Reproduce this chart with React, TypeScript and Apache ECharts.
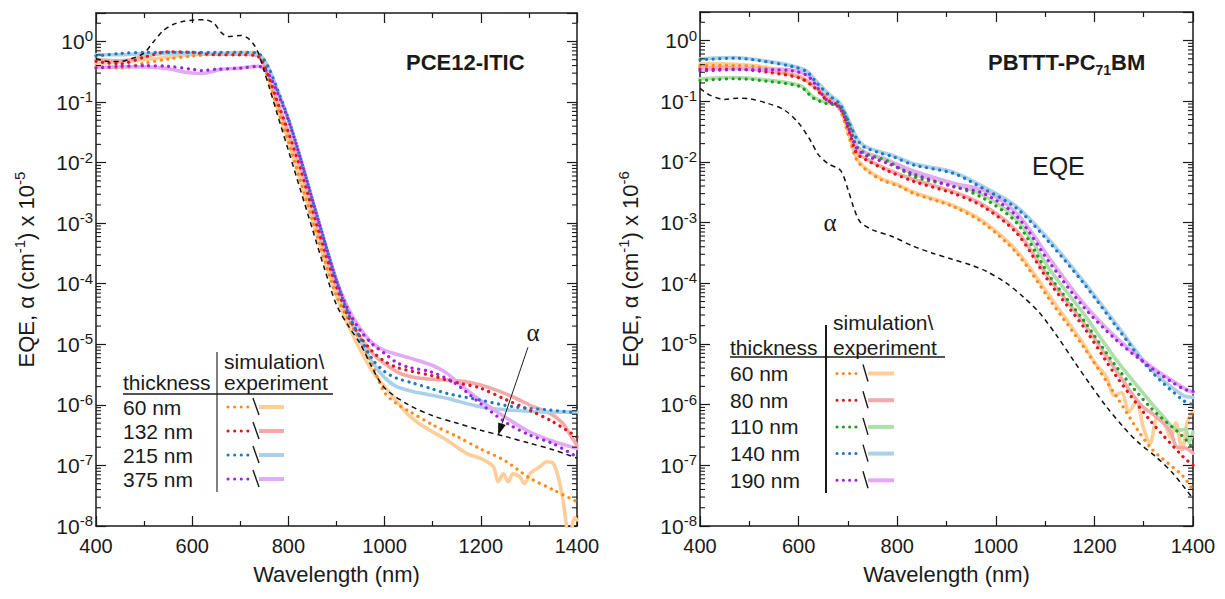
import React, { useEffect, useRef } from 'react';
import * as echarts from 'echarts';

const FONT = '"Liberation Sans", Arial, Helvetica, sans-serif';
const INK = '#1a1a1a';

// ---------- PCE12-ITIC (left panel), values are log10(EQE) / log10(alpha x 1e-5) ----------
const pceAlpha = [
  [400, -0.28], [425, -0.33], [450, -0.33], [475, -0.28], [500, -0.19], [520, 0.0], [540, 0.18], [560, 0.28],
  [580, 0.33], [600, 0.35], [625, 0.36], [645, 0.3], [660, 0.15], [675, 0.08], [700, 0.1], [715, 0.06],
  [728, -0.05], [738, -0.2], [750, -0.5], [760, -0.75], [775, -1.15], [800, -1.8], [825, -2.45], [850, -3.1],
  [875, -3.75], [900, -4.35], [925, -4.7], [950, -5.0], [975, -5.4], [1000, -5.72], [1050, -6.0], [1100, -6.18],
  [1150, -6.3], [1200, -6.42], [1250, -6.52], [1300, -6.63], [1350, -6.74], [1400, -6.88],
];
const pceSim60 = [
  [400, -0.41], [450, -0.44], [500, -0.36], [550, -0.29], [600, -0.24], [650, -0.21], [700, -0.19], [735, -0.2],
  [745, -0.3], [760, -0.65], [775, -1.05], [800, -1.65], [825, -2.3], [850, -2.95], [875, -3.6], [900, -4.2],
  [925, -4.6], [950, -4.95], [975, -5.35], [1000, -5.8], [1025, -5.98], [1050, -6.1], [1100, -6.33], [1150, -6.52],
  [1200, -6.73], [1250, -6.92], [1300, -7.2], [1350, -7.4], [1400, -7.6],
];
const pceExp60 = [
  [400, -0.36], [450, -0.34], [500, -0.3], [550, -0.26], [600, -0.22], [650, -0.2], [700, -0.18], [735, -0.19],
  [745, -0.3], [760, -0.65], [775, -1.05], [800, -1.65], [825, -2.3], [850, -2.95], [875, -3.6], [900, -4.2],
  [925, -4.7], [950, -5.1], [975, -5.45], [1000, -5.7], [1018, -5.87], [1046, -6.14], [1070, -6.3], [1094, -6.42],
  [1129, -6.58], [1170, -6.8], [1198, -6.88], [1226, -7.02], [1236, -7.27], [1247, -7.14], [1257, -7.27],
  [1267, -7.14], [1281, -7.19], [1291, -7.3], [1302, -7.14], [1323, -7.02], [1337, -6.94], [1350, -6.96],
  [1361, -7.19], [1371, -7.58], [1378, -8.0], [1384, -8.4], [1390, -8.0], [1395, -7.86], [1400, -7.9],
];
const pceSim132 = [
  [400, -0.33], [450, -0.37], [500, -0.26], [550, -0.17], [600, -0.18], [650, -0.22], [700, -0.22], [735, -0.24],
  [745, -0.32], [760, -0.6], [775, -0.95], [800, -1.5], [825, -2.1], [850, -2.78], [875, -3.45], [900, -4.05],
  [925, -4.55], [950, -4.88], [975, -5.12], [1000, -5.28], [1025, -5.38], [1059, -5.45], [1100, -5.52],
  [1129, -5.59], [1160, -5.65], [1198, -5.72], [1254, -5.92], [1302, -6.09], [1350, -6.28], [1400, -6.53],
];
const pceExp132 = [
  [400, -0.3], [450, -0.32], [500, -0.25], [550, -0.18], [600, -0.2], [650, -0.21], [700, -0.21], [735, -0.23],
  [745, -0.32], [760, -0.6], [775, -0.95], [800, -1.5], [825, -2.1], [850, -2.78], [875, -3.45], [900, -4.05],
  [925, -4.55], [950, -4.9], [975, -5.15], [990, -5.26], [1032, -5.48], [1074, -5.56], [1129, -5.59],
  [1170, -5.62], [1219, -5.72], [1267, -5.87], [1309, -6.03], [1344, -6.14], [1370, -6.3], [1385, -6.48], [1400, -6.67],
];
const pceSim215 = [
  [400, -0.24], [450, -0.2], [500, -0.18], [550, -0.18], [600, -0.18], [650, -0.18], [700, -0.18], [735, -0.19],
  [745, -0.25], [760, -0.45], [775, -0.75], [800, -1.28], [825, -1.93], [850, -2.62], [875, -3.3], [900, -3.95],
  [925, -4.5], [950, -4.9], [975, -5.25], [1000, -5.45], [1025, -5.56], [1059, -5.64], [1100, -5.74],
  [1129, -5.81], [1198, -5.92], [1267, -6.03], [1337, -6.08], [1400, -6.13],
];
const pceExp215 = [
  [400, -0.22], [450, -0.22], [500, -0.2], [550, -0.2], [600, -0.2], [650, -0.2], [700, -0.19], [735, -0.2],
  [745, -0.26], [760, -0.45], [775, -0.75], [800, -1.28], [825, -1.93], [850, -2.62], [875, -3.3], [900, -3.95],
  [925, -4.52], [950, -4.95], [975, -5.3], [1000, -5.55], [1025, -5.7], [1059, -5.78], [1129, -5.89],
  [1198, -6.03], [1267, -6.09], [1337, -6.12], [1400, -6.12],
];
const pceSim375 = [
  [400, -0.44], [450, -0.41], [500, -0.4], [550, -0.41], [600, -0.46], [620, -0.48], [650, -0.46], [700, -0.44],
  [738, -0.41], [750, -0.45], [760, -0.55], [775, -0.8], [800, -1.3], [825, -1.93], [850, -2.62], [875, -3.3],
  [900, -3.95], [925, -4.45], [950, -4.78], [975, -5.0], [1000, -5.15], [1025, -5.3], [1050, -5.38],
  [1094, -5.45], [1142, -5.62], [1198, -5.97], [1254, -6.3], [1302, -6.5], [1350, -6.64], [1400, -6.86],
];
const pceExp375 = [
  [400, -0.43], [450, -0.42], [500, -0.42], [550, -0.45], [580, -0.5], [600, -0.52], [620, -0.53], [640, -0.5],
  [660, -0.46], [700, -0.44], [738, -0.41], [750, -0.45], [760, -0.55], [775, -0.8], [800, -1.3], [825, -1.93],
  [850, -2.62], [875, -3.3], [900, -3.95], [925, -4.42], [950, -4.75], [975, -4.98], [1000, -5.1], [1050, -5.22],
  [1100, -5.35], [1130, -5.48], [1150, -5.62], [1200, -5.93], [1250, -6.2], [1300, -6.44], [1350, -6.6], [1400, -6.72],
];

// ---------- PBTTT-PC71BM (right panel), values are log10(EQE) / log10(alpha x 1e-6) ----------
const pbAlpha = [
  [400, -0.79], [420, -0.9], [450, -0.97], [475, -0.95], [500, -0.96], [535, -1.03], [570, -1.14], [600, -1.36],
  [625, -1.66], [640, -1.88], [660, -2.03], [685, -2.14], [700, -2.45], [712, -2.76], [725, -2.99], [750, -3.12],
  [790, -3.23], [830, -3.38], [870, -3.5], [910, -3.6], [950, -3.7], [980, -3.8], [1020, -3.99], [1055, -4.22],
  [1090, -4.5], [1125, -4.88], [1160, -5.3], [1190, -5.65], [1225, -6.04], [1260, -6.38], [1290, -6.63],
  [1325, -6.86], [1360, -7.14], [1400, -7.55],
];
const pbSim60 = [
  [400, -0.41], [470, -0.41], [535, -0.46], [603, -0.62], [630, -0.76], [664, -0.98], [684, -1.15], [704, -1.64],
  [718, -1.97], [738, -2.14], [769, -2.3], [806, -2.41], [833, -2.52], [914, -2.74], [975, -3.01], [1043, -3.51],
  [1110, -4.28], [1178, -5.05], [1245, -5.87], [1313, -6.7], [1380, -7.18], [1400, -7.42],
];
const pbExp60 = [
  [400, -0.38], [470, -0.39], [535, -0.44], [603, -0.6], [630, -0.74], [664, -0.96], [684, -1.12], [704, -1.6],
  [718, -1.94], [738, -2.12], [769, -2.28], [806, -2.39], [833, -2.5], [914, -2.72], [975, -2.98], [1043, -3.47],
  [1110, -4.22], [1178, -5.0], [1200, -5.3], [1225, -5.55], [1240, -5.85], [1255, -5.8], [1270, -6.12],
  [1285, -5.95], [1300, -6.4], [1313, -6.64], [1328, -6.2], [1342, -6.3], [1355, -6.55], [1365, -6.3],
  [1378, -6.75], [1388, -6.3], [1400, -6.1],
];
const pbSim80 = [
  [400, -0.47], [470, -0.47], [535, -0.52], [603, -0.62], [630, -0.76], [657, -0.98], [684, -1.09], [704, -1.53],
  [718, -1.86], [738, -1.97], [779, -2.14], [833, -2.32], [914, -2.52], [975, -2.74], [1043, -3.18], [1110, -4.0],
  [1178, -4.72], [1245, -5.54], [1313, -6.26], [1380, -6.86], [1400, -7.0],
];
const pbExp80 = [
  [400, -0.44], [470, -0.45], [535, -0.5], [603, -0.6], [630, -0.74], [657, -0.96], [684, -1.07], [704, -1.5],
  [718, -1.84], [738, -1.95], [779, -2.12], [833, -2.29], [914, -2.49], [975, -2.71], [1043, -3.14], [1110, -3.94],
  [1178, -4.65], [1245, -5.45], [1279, -5.85], [1300, -6.05], [1318, -6.15], [1339, -6.3], [1355, -6.45],
  [1367, -6.7], [1387, -6.72], [1400, -6.8],
];
const pbSim110 = [
  [400, -0.66], [470, -0.63], [535, -0.67], [603, -0.76], [630, -0.95], [657, -1.04], [684, -1.09], [704, -1.42],
  [718, -1.75], [738, -1.87], [779, -1.98], [833, -2.24], [914, -2.4], [975, -2.6], [1043, -3.01], [1110, -3.89],
  [1178, -4.61], [1245, -5.38], [1313, -6.04], [1380, -6.53], [1400, -6.72],
];
const pbExp110 = [
  [400, -0.63], [470, -0.61], [535, -0.65], [603, -0.74], [630, -0.93], [657, -1.02], [684, -1.07], [704, -1.4],
  [718, -1.73], [738, -1.85], [779, -1.96], [833, -2.2], [914, -2.36], [975, -2.55], [1043, -2.95], [1110, -3.78],
  [1178, -4.5], [1245, -5.27], [1313, -5.95], [1340, -6.2], [1360, -6.38], [1375, -6.42], [1385, -6.4],
  [1392, -6.62], [1400, -6.45],
];
const pbSim140 = [
  [400, -0.32], [470, -0.29], [535, -0.35], [588, -0.43], [616, -0.51], [637, -0.7], [664, -0.92], [684, -1.05],
  [701, -1.33], [718, -1.62], [732, -1.75], [760, -1.84], [793, -1.92], [833, -2.05], [914, -2.19], [975, -2.44],
  [1043, -2.77], [1110, -3.34], [1178, -4.0], [1245, -4.72], [1313, -5.43], [1380, -5.93], [1400, -6.0],
];
const pbExp140 = [
  [400, -0.3], [470, -0.28], [535, -0.34], [588, -0.42], [616, -0.5], [637, -0.68], [664, -0.9], [684, -1.03],
  [701, -1.3], [718, -1.6], [732, -1.73], [760, -1.82], [793, -1.9], [833, -2.03], [914, -2.17], [975, -2.41],
  [1043, -2.74], [1110, -3.3], [1178, -3.97], [1245, -4.68], [1313, -5.4], [1380, -5.85], [1400, -5.88],
];
const pbSim190 = [
  [400, -0.5], [480, -0.48], [548, -0.48], [588, -0.5], [616, -0.57], [630, -0.68], [657, -0.98], [684, -1.12],
  [704, -1.5], [718, -1.78], [738, -1.9], [779, -2.02], [833, -2.2], [914, -2.41], [975, -2.52], [1043, -2.9],
  [1110, -3.67], [1178, -4.39], [1245, -4.94], [1313, -5.38], [1380, -5.74], [1400, -5.78],
];
const pbExp190 = [
  [400, -0.47], [480, -0.46], [548, -0.47], [588, -0.49], [616, -0.56], [630, -0.67], [657, -0.96], [684, -1.1],
  [704, -1.48], [718, -1.76], [738, -1.86], [779, -1.97], [833, -2.15], [914, -2.35], [975, -2.47], [1043, -2.85],
  [1110, -3.6], [1178, -4.33], [1245, -4.9], [1313, -5.36], [1380, -5.72], [1400, -5.8],
];

// ---------- legends ----------
const pceThickness = ['60 nm', '132 nm', '215 nm', '375 nm'];
const pceSim = [pceSim60, pceSim132, pceSim215, pceSim375];
const pceExp = [pceExp60, pceExp132, pceExp215, pceExp375];
const pceSimColors = ['#ff8a1a', '#e0161b', '#1f78c1', '#a020e0'];
const pceExpColors = ['#ffcd98', '#f4aaaa', '#acd0ea', '#e2aaf3'];

const pbThickness = ['60 nm', '80 nm', '110 nm', '140 nm', '190 nm'];
const pbSim = [pbSim60, pbSim80, pbSim110, pbSim140, pbSim190];
const pbExp = [pbExp60, pbExp80, pbExp110, pbExp140, pbExp190];
const pbSimColors = ['#ff8a1a', '#e0161b', '#1e9e1e', '#1f78c1', '#a020e0'];
const pbExpColors = ['#ffcd98', '#f4aaaa', '#addfa8', '#acd0ea', '#e2aaf3'];

// arrow pointing at the alpha curve (wavelength, log10 value)
const alphaArrowFrom = [1298, -5.05];
const alphaArrowTo = [1236, -6.5];

const Y_MIN = -8;
const Y_MAX = 0.47;

function simSeries(data: number[][], color: string, gi: number) {
  return {
    type: 'line', xAxisIndex: gi * 2, yAxisIndex: gi * 2, data, smooth: 0.3, symbol: 'none', silent: true, z: 4,
    lineStyle: { color, width: 3.2, type: [0.1, 6.5], cap: 'round' },
  };
}
function expSeries(data: number[][], color: string, gi: number) {
  return {
    type: 'line', xAxisIndex: gi * 2, yAxisIndex: gi * 2, data, smooth: 0.3, symbol: 'none', silent: true, z: 3,
    lineStyle: { color, width: 3.6, type: 'solid', cap: 'round', join: 'round' },
  };
}
function alphaSeries(data: number[][], gi: number) {
  return {
    type: 'line', xAxisIndex: gi * 2, yAxisIndex: gi * 2, data, smooth: 0.3, symbol: 'none', silent: true, z: 5,
    lineStyle: { color: '#111', width: 1.5, type: [5, 4] },
  };
}

const minorLogs: number[][] = [];
for (let n = -8; n <= 0; n++) {
  for (let k = 2; k <= 9; k++) {
    const v = n + Math.log10(k);
    if (v < Y_MAX) minorLogs.push([400, v]);
  }
}
function minorTickSeries(gi: number) {
  return {
    type: 'custom', xAxisIndex: gi * 2, yAxisIndex: gi * 2, data: minorLogs, silent: true, clip: false, z: 6,
    encode: { x: 0, y: 1 },
    renderItem: (_p: any, api: any) => {
      const v = api.value(1);
      const l = api.coord([400, v]);
      const r = api.coord([1400, v]);
      return {
        type: 'group',
        children: [
          { type: 'line', shape: { x1: l[0], y1: l[1], x2: l[0] + 5, y2: l[1] }, style: { stroke: INK, lineWidth: 1.1 } },
          { type: 'line', shape: { x1: r[0] - 5, y1: r[1], x2: r[0], y2: r[1] }, style: { stroke: INK, lineWidth: 1.1 } },
        ],
      };
    },
  };
}

// arrow drawn through the axes' scales (line + filled head)
function arrowSeries(gi: number) {
  return {
    type: 'custom', xAxisIndex: gi * 2, yAxisIndex: gi * 2, data: [[alphaArrowFrom[0], alphaArrowFrom[1], alphaArrowTo[0], alphaArrowTo[1]]],
    silent: true, clip: false, z: 7,
    renderItem: (_p: any, api: any) => {
      const a = api.coord([api.value(0), api.value(1)]);
      const b = api.coord([api.value(2), api.value(3)]);
      const dx = b[0] - a[0];
      const dy = b[1] - a[1];
      const len = Math.sqrt(dx * dx + dy * dy);
      const ux = dx / len;
      const uy = dy / len;
      const hl = 12;
      const hw = 4;
      const bx = b[0] - ux * hl;
      const by = b[1] - uy * hl;
      return {
        type: 'group',
        children: [
          { type: 'line', shape: { x1: a[0], y1: a[1], x2: bx, y2: by }, style: { stroke: '#222', lineWidth: 1 } },
          {
            type: 'polygon',
            shape: { points: [[b[0], b[1]], [bx - uy * hw, by + ux * hw], [bx + uy * hw, by - ux * hw]] },
            style: { fill: '#111' },
          },
        ],
      };
    },
  };
}

const isInt = (v: number) => Math.abs(v - Math.round(v)) < 1e-6;

function xAxisDef(gi: number, pos: 'bottom' | 'top') {
  return {
    type: 'value', gridIndex: gi, position: pos, min: 400, max: 1400, interval: 200,
    axisLine: { show: true, onZero: false, lineStyle: { color: INK, width: 1.5 } },
    axisTick: { show: true, inside: true, length: 10, lineStyle: { color: INK, width: 1.2 } },
    minorTick: { show: true, splitNumber: 2, length: 5, lineStyle: { color: INK, width: 1.2 } },
    splitLine: { show: false },
    minorSplitLine: { show: false },
    axisLabel: pos === 'bottom'
      ? { show: true, fontSize: 20, color: INK, fontFamily: FONT, margin: 10, formatter: (v: number) => String(v) }
      : { show: false },
    name: pos === 'bottom' ? 'Wavelength (nm)' : '',
    nameLocation: 'middle', nameGap: 37,
    nameTextStyle: { fontSize: 22, color: INK, fontFamily: FONT },
  };
}

function yAxisDef(gi: number, pos: 'left' | 'right', exp: string) {
  return {
    type: 'value', gridIndex: gi, position: pos, min: Y_MIN, max: Y_MAX, interval: 1,
    axisLine: { show: true, onZero: false, lineStyle: { color: INK, width: 1.5 } },
    axisTick: { show: true, inside: true, length: 10, lineStyle: { color: INK, width: 1.2 } },
    splitLine: { show: false },
    axisLabel: pos === 'left'
      ? {
        show: true, margin: 3,
        formatter: (v: number) => (isInt(v) ? `{b|10}{s|${Math.round(v)}}` : ''),
        rich: {
          b: { fontSize: 21, fontFamily: FONT, color: INK, lineHeight: 26 },
          s: { fontSize: 15, fontFamily: FONT, color: INK, lineHeight: 14, verticalAlign: 'top' },
        },
      }
      : { show: false },
    name: pos === 'left' ? `EQE, α (cm{s|-1}) x 10{s|${exp}}` : '',
    nameLocation: 'middle', nameRotate: 90, nameGap: 56,
    nameTextStyle: {
      fontSize: 22, fontFamily: FONT, color: INK, lineHeight: 28,
      rich: { s: { fontSize: 15, fontFamily: FONT, color: INK, lineHeight: 14, verticalAlign: 'top' } },
    },
  };
}

function txt(x: number, y: number, text: string, size: number, extra: any = {}) {
  return {
    type: 'text', x, y, silent: true, z: 10,
    style: {
      text, fontSize: size, fontFamily: FONT, fill: INK,
      textVerticalAlign: 'middle', verticalAlign: 'middle', ...extra,
    },
  };
}
function seg(x1: number, y1: number, x2: number, y2: number, stroke: string, lineWidth: number, dash?: number[]) {
  return {
    type: 'line', silent: true, z: 10, shape: { x1, y1, x2, y2 },
    style: { stroke, lineWidth, lineDash: dash || null, lineCap: dash ? 'round' : 'butt' },
  };
}

function legendGraphics() {
  const els: any[] = [];
  // left table
  els.push(seg(217, 352, 217, 492, '#808080', 2));
  els.push(seg(123, 394, 333, 394, INK, 1.5));
  els.push(txt(224, 361, 'simulation\\', 21));
  els.push(txt(123, 382, 'thickness', 21));
  els.push(txt(224, 382, 'experiment', 21));
  pceThickness.forEach((label, i) => {
    const y = 407 + 24 * i;
    els.push(txt(123, y, label, 21));
    els.push(seg(228, y, 249, y, pceSimColors[i], 3, [0.1, 6.5]));
    els.push(seg(253, y - 9, 259, y + 8, INK, 1.4));
    els.push(seg(259, y, 284, y, pceExpColors[i], 4));
  });
  // right table
  els.push(seg(826, 325, 826, 493, INK, 2));
  els.push(seg(730, 357, 945, 357, INK, 1.5));
  els.push(txt(833, 322, 'simulation\\', 21));
  els.push(txt(730, 347, 'thickness', 21));
  els.push(txt(833, 347, 'experiment', 21));
  pbThickness.forEach((label, i) => {
    const y = 373.5 + 26.7 * i;
    els.push(txt(730, y, label, 21));
    els.push(seg(837, y, 862, y, pbSimColors[i], 3, [0.1, 6.2]));
    els.push(seg(863, y - 9, 868, y + 8, INK, 1.4));
    els.push(seg(868, y, 894, y, pbExpColors[i], 4));
  });
  // annotations
  els.push(txt(406, 62, 'PCE12-ITIC', 22, { fontWeight: 'bold' }));
  els.push({
    type: 'text', x: 988, y: 62, silent: true, z: 10,
    style: {
      text: '{b|PBTTT-PC}{u|71}{b|BM}', textVerticalAlign: 'middle', verticalAlign: 'middle',
      rich: {
        b: { fontSize: 22, fontWeight: 'bold', fontFamily: FONT, fill: INK, color: INK, lineHeight: 30 },
        u: { fontSize: 14, fontWeight: 'bold', fontFamily: FONT, fill: INK, color: INK, lineHeight: 14, verticalAlign: 'bottom' },
      },
    },
  });
  els.push(txt(1032, 166, 'EQE', 25));
  els.push(txt(830, 222, 'α', 25, { textAlign: 'center', align: 'center', fontFamily: '"Liberation Serif", "DejaVu Serif", serif' }));
  els.push(txt(533, 332, 'α', 25, { textAlign: 'center', align: 'center', fontFamily: '"Liberation Serif", "DejaVu Serif", serif' }));
  return els;
}

export default function App() {
  const ref = useRef<HTMLDivElement>(null);
  useEffect(() => {
    if (!ref.current) return;
    const chart = echarts.init(ref.current, undefined, { renderer: 'svg' });
    const series: any[] = [];
    pceExp.forEach((d, i) => series.push(expSeries(d, pceExpColors[i], 0)));
    pceSim.forEach((d, i) => series.push(simSeries(d, pceSimColors[i], 0)));
    series.push(alphaSeries(pceAlpha, 0));
    pbExp.forEach((d, i) => series.push(expSeries(d, pbExpColors[i], 1)));
    pbSim.forEach((d, i) => series.push(simSeries(d, pbSimColors[i], 1)));
    series.push(alphaSeries(pbAlpha, 1));
    series.push(minorTickSeries(0));
    series.push(minorTickSeries(1));
    series.push(arrowSeries(0));

    chart.setOption({
      animation: false,
      backgroundColor: '#ffffff',
      textStyle: { fontFamily: FONT },
      grid: [
        { left: 96, top: 13, width: 481, height: 513, containLabel: false },
        { left: 700, top: 12, width: 493, height: 514, containLabel: false },
      ],
      xAxis: [xAxisDef(0, 'bottom'), xAxisDef(0, 'top'), xAxisDef(1, 'bottom'), xAxisDef(1, 'top')],
      yAxis: [yAxisDef(0, 'left', '-5'), yAxisDef(0, 'right', '-5'), yAxisDef(1, 'left', '-6'), yAxisDef(1, 'right', '-6')],
      series,
      graphic: legendGraphics(),
    });
    return () => chart.dispose();
  }, []);
  return (
    <div
      ref={ref}
      style={{ position: 'fixed', left: 0, top: 0, width: 1225, height: 599, background: '#fff' }}
    />
  );
}
